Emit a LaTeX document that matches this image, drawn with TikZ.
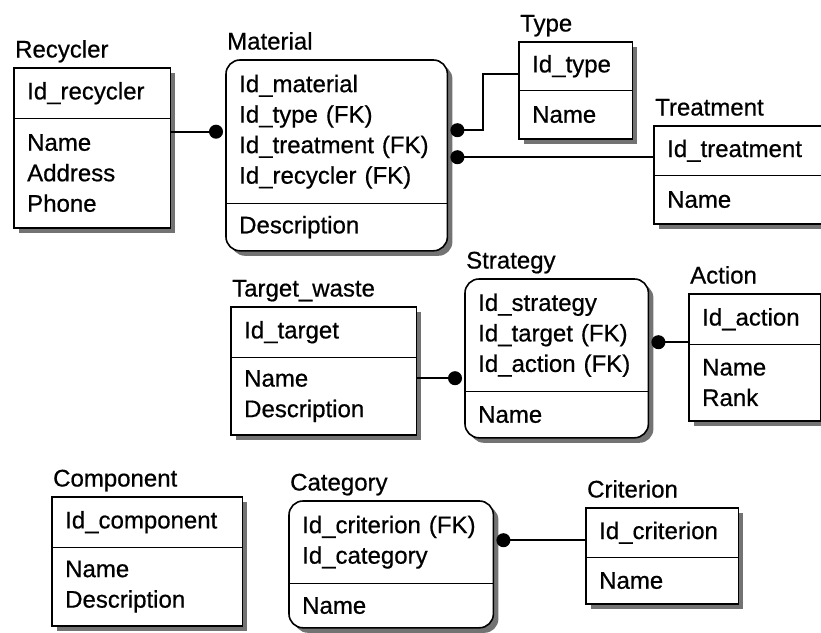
\documentclass[tikz,border=0pt]{standalone}
\usepackage{fontspec}
\setmainfont[FakeBold=0.6]{Liberation Sans}
\usepackage{tikz}
\usetikzlibrary{arrows.meta, positioning, backgrounds}

\begin{document}
\begin{tikzpicture}[x=1pt, y=-1pt,
        part/.style 2 args={anchor=north west, inner xsep=13pt, inner ysep=0pt, text width=#1, minimum height=#2, align=left, font=\fontsize{24}{30.5}\selectfont},
        title/.style={anchor=base west, inner sep=0pt, xshift=1pt, font=\fontsize{24}{26}\selectfont},
        box/.style={draw, line width=1.6pt, fill=white, preaction={fill=black!55, transform canvas={xshift=5pt, yshift=-5pt}}},
        dep/.style={box, rounded corners=14pt},
        divider/.style={line width=1.6pt},
        rel/.style={{Circle[length=14pt]}-, line width=1.6pt, shorten <=3pt}
    ]
        \useasboundingbox (0,0) rectangle (821,632);

        % Nodes
        \node[part={130pt}{50pt}] (recK) at (14,68) {Id\_recycler};
        \node[part={130pt}{109pt}, below right=0pt and 0pt of recK.south west] (recA) {Name\\Address\\Phone};
        \node[title] at ([yshift=10.5pt]recK.north west) {Recycler};

        \node[part={195pt}{143pt}] (matK) at (226,60) {Id\_material\\Id\_type (FK)\\Id\_treatment (FK)\\Id\_recycler (FK)};
        \node[part={195pt}{47pt}, below right=0pt and 0pt of matK.south west] (matA) {Description};
        \node[title] at ([yshift=10.5pt]matK.north west) {Material};

        \node[part={87pt}{48pt}] (typK) at (519,42) {Id\_type};
        \node[part={87pt}{48pt}, below right=0pt and 0pt of typK.south west] (typA) {Name};
        \node[title] at ([yshift=10.5pt]typK.north west) {Type};

        \node[part={146pt}{49pt}] (treK) at (654,126) {Id\_treatment};
        \node[part={146pt}{48pt}, below right=0pt and 0pt of treK.south west] (treA) {Name};
        \node[title] at ([yshift=10.5pt]treK.north west) {Treatment};

        \node[part={159pt}{50pt}] (tarK) at (231,307) {Id\_target};
        \node[part={159pt}{77pt}, below right=0pt and 0pt of tarK.south west] (tarA) {Name\\Description};
        \node[title] at ([yshift=10.5pt]tarK.north west) {Target\_waste};

        \node[part={157pt}{112pt}] (strK) at (465,279) {Id\_strategy\\Id\_target (FK)\\Id\_action (FK)};
        \node[part={157pt}{46pt}, below right=0pt and 0pt of strK.south west] (strA) {Name};
        \node[title] at ([yshift=10.5pt]strK.north west) {Strategy};

        \node[part={105pt}{50pt}] (actK) at (689,294) {Id\_action};
        \node[part={105pt}{76pt}, below right=0pt and 0pt of actK.south west] (actA) {Name\\Rank};
        \node[title] at ([yshift=10.5pt]actK.north west) {Action};

        \node[part={164pt}{50pt}] (comK) at (52,497) {Id\_component};
        \node[part={164pt}{78pt}, below right=0pt and 0pt of comK.south west] (comA) {Name\\Description};
        \node[title] at ([yshift=10.5pt]comK.north west) {Component};

        \node[part={178pt}{82pt}] (catK) at (289,501) {Id\_criterion (FK)\\Id\_category};
        \node[part={178pt}{44pt}, below right=0pt and 0pt of catK.south west] (catA) {Name};
        \node[title] at ([yshift=10.5pt]catK.north west) {Category};

        \node[part={126pt}{49pt}] (criK) at (586,508) {Id\_criterion};
        \node[part={126pt}{46pt}, below right=0pt and 0pt of criK.south west] (criA) {Name};
        \node[title] at ([yshift=10.5pt]criK.north west) {Criterion};

        % Frames and shadows
        \begin{scope}[on background layer]
            \draw[box] (recK.north west) rectangle (recA.south east);
            \draw[dep] (matK.north west) rectangle (matA.south east);
            \draw[box] (typK.north west) rectangle (typA.south east);
            \draw[box] (treK.north west) rectangle (treA.south east);
            \draw[box] (tarK.north west) rectangle (tarA.south east);
            \draw[dep] (strK.north west) rectangle (strA.south east);
            \draw[box] (actK.north west) rectangle (actA.south east);
            \draw[box] (comK.north west) rectangle (comA.south east);
            \draw[dep] (catK.north west) rectangle (catA.south east);
            \draw[box] (criK.north west) rectangle (criA.south east);
        \end{scope}
        \foreach \e in {rec, mat, typ, tre, tar, str, act, com, cat, cri}
            \draw[divider] (\e K.south west) -- (\e K.south east);

        % Connectors
        \coordinate (typIn) at ([yshift=-8pt]typK.west);
        \draw[rel] (matK.west) -- (matK.west -| recA.east);
        \draw[rel] ([yshift=1.5pt]matK.east) -| ([xshift=-36pt]typIn) -- (typIn);
        \draw[rel] ([yshift=-25.5pt]matK.east) coordinate (p) -- (p -| treK.west);
        \draw[rel] ([yshift=-43pt]strK.west) coordinate (p) -- (p -| tarA.east);
        \draw[rel] ([yshift=-7pt]strK.east) coordinate (p) -- (p -| actK.west);
        \draw[rel] ([yshift=2pt]catK.east) coordinate (p) -- (p -| criK.west);
    \end{tikzpicture}
\end{document}
